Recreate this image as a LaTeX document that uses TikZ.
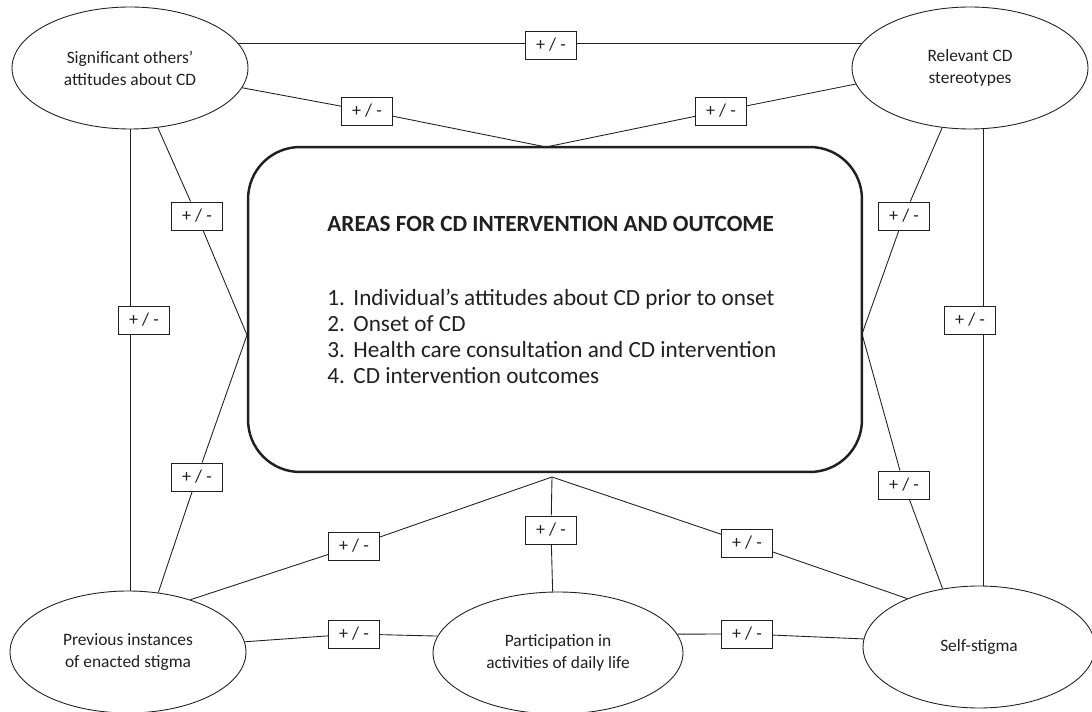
\documentclass[tikz,border=0pt]{standalone}
\usepackage{fontspec}
\setmainfont{Carlito}
\usetikzlibrary{shapes.geometric,calc}
\definecolor{ink}{RGB}{35,31,32}

\begin{document}
\begin{tikzpicture}[x=0.02cm,y=-0.02cm,line width=0.5pt,color=ink,
    oval/.style={ellipse,draw,minimum width=4.72cm,minimum height=2.44cm,inner sep=0pt,align=center,font=\fontsize{9.9}{12.5}\selectfont},
    pm/.style={draw,fill=white,minimum width=1.02cm,minimum height=0.56cm,inner sep=0pt,font=\fontsize{10.3}{12}\selectfont}]
      \useasboundingbox (0,0) rectangle (1092,712);
      % the five ovals
      \node[oval] (SO) at (130,68) {Significant others’\\attitudes about CD};
      \node[oval] (RS) at (970,68) {Relevant CD\\stereotypes};
      \node[oval] (PI) at (128,652) {Previous instances\\of enacted stigma};
      \node[oval,minimum width=5cm] (PA) at (558,653) {Participation in\\activities of daily life};
      \node[oval,minimum width=4.64cm] (SS) at (979,647) {Self-stigma};
      % central box
      \node[draw,line width=1.4pt,rounded corners=1.04cm,minimum width=12.28cm,minimum height=6.5cm] (CD) at (555,309.5) {};
      \node[align=left,inner sep=0pt,anchor=north west,font=\fontsize{13.2}{14.7}\selectfont] (areas) at (327,215.5)
        {\textbf{AREAS FOR CD INTERVENTION AND OUTCOME}\\[27.8pt]
         \makebox[14.8pt][l]{1.}Individual’s attitudes about CD prior to onset\\
         \makebox[14.8pt][l]{2.}Onset of CD\\
         \makebox[14.8pt][l]{3.}Health care consultation and CD intervention\\
         \makebox[14.8pt][l]{4.}CD intervention outcomes};
      \coordinate (ctop) at (546,147);
      \coordinate (cbot) at (552,477);
      \coordinate (cl) at (247,335);
      \coordinate (cr) at (862,334);
      % +/- boxes
      \foreach \n/\x/\y in {b1/551/45,b2/367/111,b3/721/111,b4/197/216,b5/144/320,b6/197/477,b7/904/216,
          b8/970/320,b9/904/485,b10/354/546,b11/551/530,b12/747/543,b13/354/634,b14/747/634}{
        \node[pm] (\n) at (\x,\y) {+ / -};
      }
      % links
      \foreach \a/\b/\c in {SO.-10/b2/ctop,RS.188/b3/ctop,SO.-65/b4/cl,PI.63/b6/cl,RS.245/b7/cr,SS.122/b9/cr,
          PI.40/b10/cbot,PA.95/b11/cbot,SS.146/b12/cbot,PI.5/b13/PA.172,PA.9/b14/SS.176}{
        \draw (\a) -- (\b) -- (\c);
      }
      \draw (SO.13) -- (SO.13 -| b1.west) (b1.east |- SO.13) -- (RS.167);
      \draw (SO.south) -- (SO.south |- b5.north) (SO.south |- b5.south) -- (SO.south |- PI.north);
      \draw (RS.-78) -- (RS.-78 |- b8.north) (RS.-78 |- b8.south) -- (RS.-78 |- SS.north);
    \end{tikzpicture}
\end{document}
